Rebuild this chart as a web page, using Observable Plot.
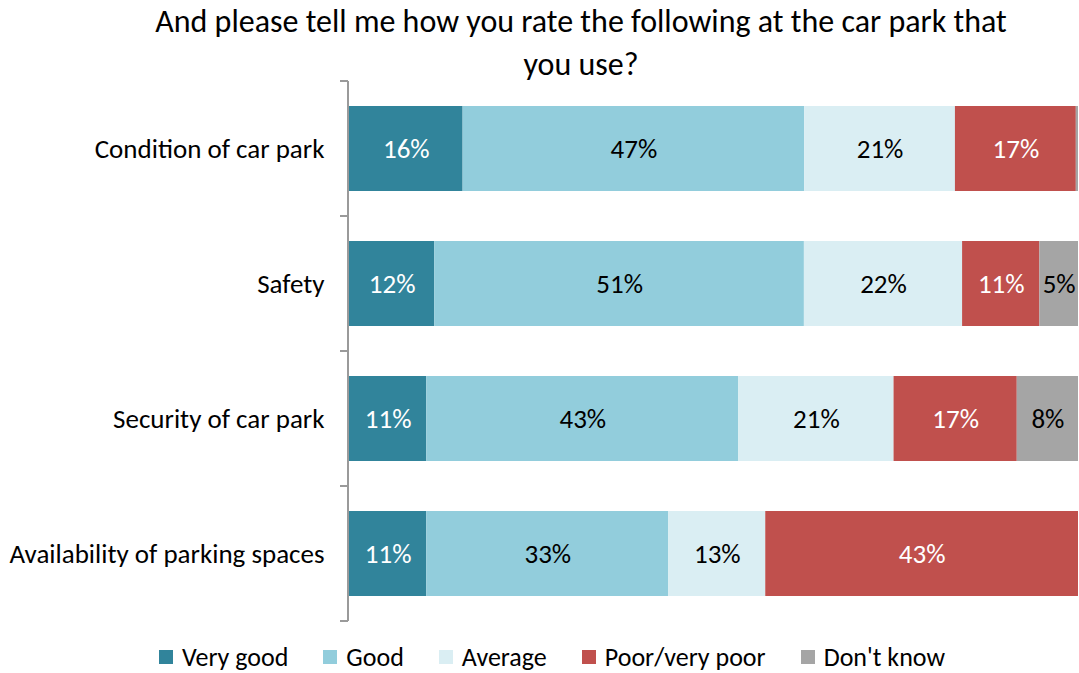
<!DOCTYPE html>
<html>
<head>
<meta charset="utf-8">
<script src="https://cdn.jsdelivr.net/npm/d3@7"></script>
<script src="https://cdn.jsdelivr.net/npm/@observablehq/plot@0.6"></script>
<style>
  html, body { margin: 0; padding: 0; background: #fff; }
  body { width: 1079px; height: 673px; overflow: hidden; font-family: Carlito, Lato, "Liberation Sans", sans-serif; color: #000; }
  #title { height: 79px; padding-left: 83px; text-align: center; font-size: 32px; line-height: 43px; box-sizing: border-box; }
  #legend { display: flex; justify-content: center; gap: 35px; padding-left: 25px; margin-top: 21px; font-size: 26px; line-height: 24px; }
  .item { display: flex; align-items: center; }
  .sw { width: 14px; height: 14px; margin-right: 9px; display: inline-block; }
  svg { display: block; }
</style>
</head>
<body>
<div id="title">And please tell me how you rate the following at the car park that<br>you use?</div>
<div id="chart"></div>
<div id="legend"></div>
<script>
const categories = ["Condition of car park", "Safety", "Security of car park", "Availability of parking spaces"];
const series = ["Very good", "Good", "Average", "Poor/very poor", "Don't know"];
const veryGood = [15.6, 11.7, 10.6, 10.6];
const good = [46.9, 50.7, 42.8, 33.2];
const average = [20.7, 21.7, 21.3, 13.3];
const poor = [16.6, 10.6, 16.9, 42.9];
const dontKnow = [0.3, 5.3, 8.4, 0];
const colors = ["#31849B", "#92CDDC", "#DAEEF3", "#C0504D", "#A5A5A5"];
const whiteLabelSeries = ["Very good", "Poor/very poor"];

const valuesBySeries = [veryGood, good, average, poor, dontKnow];
const data = [];
categories.forEach((c, i) => {
  series.forEach((s, j) => {
    data.push({category: c, series: s, value: valuesBySeries[j][i]});
  });
});
const label = d => d.value >= 1 ? Math.round(d.value) + "%" : "";
const whiteLabel = d => whiteLabelSeries.includes(d.series) ? label(d) : "";
const blackLabel = d => whiteLabelSeries.includes(d.series) ? "" : label(d);

function boundaryTicks(index, scales, values, dims) {
  const y = scales.y, x = scales.x;
  const step = y.step(), bw = y.bandwidth();
  const pad = (step - bw) / 2;
  const x0 = x(0) - 1;
  const ys = categories.map(c => y(c) - pad);
  ys.push(y(categories[categories.length - 1]) + bw + pad);
  const g = d3.create("svg:g").attr("stroke", "#9a9a9a").attr("stroke-width", 2);
  g.append("line").attr("x1", x0).attr("x2", x0).attr("y1", ys[0]).attr("y2", ys[ys.length - 1]);
  for (const v of ys) g.append("line").attr("x1", x0 - 8).attr("x2", x0).attr("y1", v).attr("y2", v);
  return g.node();
}

const stackOpts = {x: "value", y: "category", z: "series", order: series, offset: "normalize"};

const plot = Plot.plot({
  width: 1079,
  height: 545,
  marginTop: 1,
  marginBottom: 2,
  marginLeft: 349,
  marginRight: 1,
  style: {fontFamily: "Carlito, Lato, 'Liberation Sans', sans-serif", fontSize: "27px", color: "#000", background: "#fff"},
  x: {domain: [0, 1], axis: null},
  y: {domain: categories, paddingInner: 0.373, paddingOuter: 0.1865, axis: "left", tickSize: 0, tickPadding: 25, label: null},
  color: {domain: series, range: colors},
  marks: [
    Plot.barX(data, Plot.stackX({...stackOpts, fill: "series"})),
    Plot.text(data, Plot.stackX({...stackOpts, text: whiteLabel, fill: "white", fontSize: 27})),
    Plot.text(data, Plot.stackX({...stackOpts, text: blackLabel, fill: "black", fontSize: 27})),
    boundaryTicks
  ]
});
document.getElementById("chart").appendChild(plot);

const legend = d3.select("#legend");
series.forEach((s, i) => {
  const it = legend.append("div").attr("class", "item");
  it.append("span").attr("class", "sw").style("background", colors[i]);
  it.append("span").text(s);
});
</script>
</body>
</html>
